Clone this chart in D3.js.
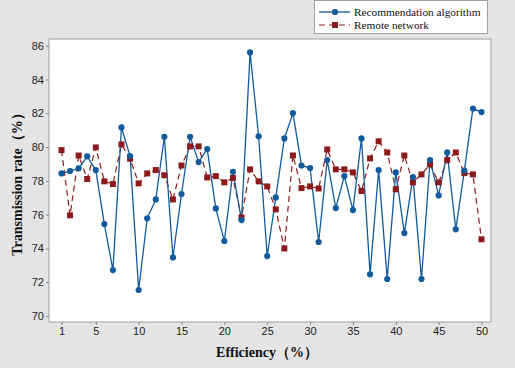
<!DOCTYPE html>
<html>
<head>
<meta charset="utf-8">
<script src="https://cdn.jsdelivr.net/npm/d3@7"></script>
<style>
  body { margin: 0; background: #e4e4e4; }
  svg { display: block; }
  .tick text { font-family: "Liberation Sans", Arial, sans-serif; font-size: 11px; fill: #222; }
  .axis-title { font-family: "Liberation Serif", "Times New Roman", serif; font-size: 14px; font-weight: bold; fill: #111; }
  .legend text { font-family: "Liberation Serif", "Times New Roman", serif; font-size: 11.3px; fill: #111; }
</style>
</head>
<body>
<div id="chart"></div>
<script>
// Data
const efficiency = d3.range(1, 51);
const recommendation = [78.44, 78.58, 78.74, 79.45, 78.64, 75.44, 72.72, 81.16, 79.47, 71.54,
  75.78, 76.9, 80.61, 73.47, 77.22, 80.61, 79.11, 79.88, 76.37, 74.44,
  78.54, 75.68, 85.6, 80.64, 73.55, 77.02, 80.51, 82.01, 78.91, 78.76,
  74.38, 79.23, 76.39, 78.28, 76.27, 80.51, 72.47, 78.64, 72.19, 78.5,
  74.91, 78.22, 72.19, 79.23, 77.14, 79.68, 75.13, 78.6, 82.28, 82.07];
const remote = [79.82, 75.96, 79.5, 78.11, 79.98, 77.97, 77.81, 80.16, 79.31, 77.85,
  78.44, 78.64, 78.33, 76.9, 78.91, 80.04, 80.04, 78.2, 78.28, 77.91,
  78.17, 75.84, 78.68, 77.97, 77.67, 76.31, 74.0, 79.5, 77.57, 77.67,
  77.55, 79.86, 78.68, 78.68, 78.5, 77.4, 79.33, 80.34, 79.68, 77.5,
  79.5, 77.91, 78.38, 78.97, 77.91, 79.23, 79.68, 78.46, 78.38, 74.54];
const xTicks = [1, 5, 10, 15, 20, 25, 30, 35, 40, 45, 50];
const yTicks = [70, 72, 74, 76, 78, 80, 82, 84, 86];
const seriesNames = ["Recommendation algorithm", "Remote network"];

const W = 515, H = 368;
const frame = {left: 49, top: 39, right: 491, bottom: 322};
const blue = "#135a9c", red = "#8e1b1b";

const svg = d3.select("#chart").append("svg")
  .attr("width", W).attr("height", H);

// Plot area
svg.append("rect")
  .attr("x", frame.left).attr("y", frame.top)
  .attr("width", frame.right - frame.left).attr("height", frame.bottom - frame.top)
  .attr("fill", "#fff").attr("stroke", "#a0a0a0");

const x = d3.scaleLinear().domain([1, 50]).range([61.5, 481.5]);
const y = d3.scaleLinear().domain([70, 86]).range([316, 45.7]);

// X axis
const xAxis = svg.append("g")
  .attr("transform", `translate(0,${frame.bottom})`)
  .call(d3.axisBottom(x).tickValues(xTicks).tickSize(3).tickPadding(2));
xAxis.select(".domain").remove();
xAxis.selectAll(".tick line").attr("stroke", "#888");

// Y axis
const yAxis = svg.append("g")
  .attr("transform", `translate(${frame.left},0)`)
  .call(d3.axisLeft(y).tickValues(yTicks).tickSize(3).tickPadding(2));
yAxis.select(".domain").remove();
yAxis.selectAll(".tick line").attr("stroke", "#888");

// Axis titles
svg.append("text").attr("class", "axis-title")
  .attr("x", 267).attr("y", 357).attr("text-anchor", "middle")
  .text("Efficiency（%）");
svg.append("text").attr("class", "axis-title")
  .attr("transform", "translate(22,181) rotate(-90)")
  .attr("text-anchor", "middle")
  .text("Transmission rate（%）");

// Lines
const line = d3.line().x((d, i) => x(efficiency[i])).y(d => y(d));

svg.append("path").datum(remote)
  .attr("d", line).attr("fill", "none")
  .attr("stroke", red).attr("stroke-width", 1.2).attr("stroke-dasharray", "6,4");

svg.append("path").datum(recommendation)
  .attr("d", line).attr("fill", "none")
  .attr("stroke", blue).attr("stroke-width", 1.3);

svg.append("g").selectAll("rect")
  .data(remote).join("rect")
  .attr("x", (d, i) => x(efficiency[i]) - 3)
  .attr("y", d => y(d) - 3)
  .attr("width", 6).attr("height", 6)
  .attr("fill", red);

svg.append("g").selectAll("circle")
  .data(recommendation).join("circle")
  .attr("cx", (d, i) => x(efficiency[i]))
  .attr("cy", d => y(d))
  .attr("r", 3.1)
  .attr("fill", blue);

// Legend
const legend = svg.append("g").attr("class", "legend");
legend.append("rect")
  .attr("x", 314.5).attr("y", 0.5).attr("width", 173).attr("height", 33)
  .attr("fill", "#fff").attr("stroke", "#a0a0a0");

const l1 = legend.append("g").attr("transform", "translate(0,12)");
l1.append("line").attr("x1", 319).attr("x2", 350).attr("stroke", blue).attr("stroke-width", 1.3);
l1.append("circle").attr("cx", 335).attr("r", 3.1).attr("fill", blue);
l1.append("text").attr("x", 354).attr("y", 4).text(seriesNames[0]);

const l2 = legend.append("g").attr("transform", "translate(0,25)");
l2.append("line").attr("x1", 319).attr("x2", 350).attr("stroke", red)
  .attr("stroke-width", 1.2).attr("stroke-dasharray", "6,4");
l2.append("rect").attr("x", 332).attr("y", -3).attr("width", 6).attr("height", 6).attr("fill", red);
l2.append("text").attr("x", 354).attr("y", 4).text(seriesNames[1]);
</script>
</body>
</html>
